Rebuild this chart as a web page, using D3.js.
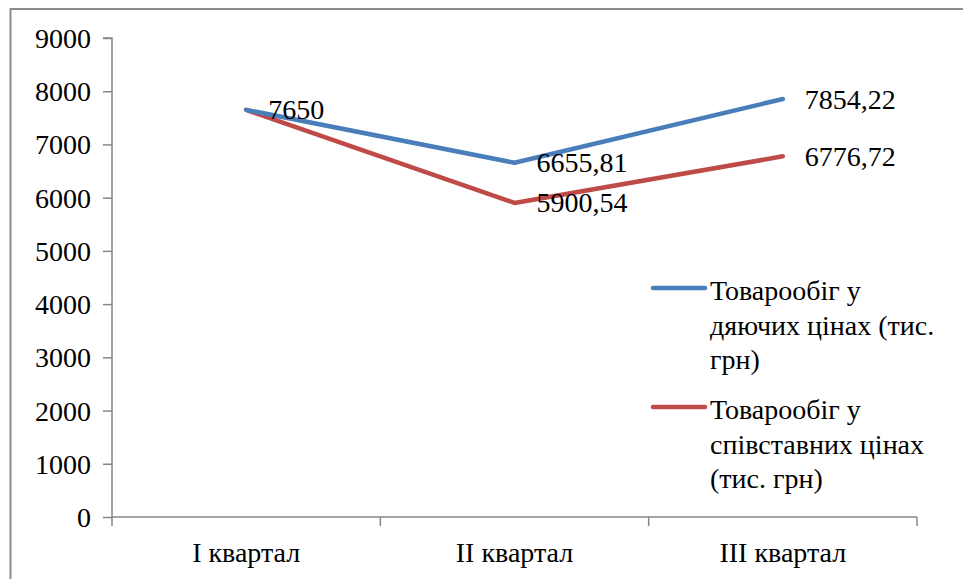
<!DOCTYPE html>
<html>
<head>
<meta charset="utf-8">
<script src="https://cdn.jsdelivr.net/npm/d3@7"></script>
<style>
  html, body { margin: 0; padding: 0; background: #fff; }
  svg { display: block; }
  svg text { font-family: "Liberation Serif", "Times New Roman", Tinos, "DejaVu Serif", "Noto Serif", serif !important; fill: #000; }
</style>
</head>
<body>
<svg id="chart" width="963" height="579"></svg>
<script>
// Quarterly turnover, thousand UAH
const quarters = ["I квартал", "II квартал", "III квартал"];
const currentPrices = [7650, 6655.81, 7854.22];
const comparablePrices = [7650, 5900.54, 6776.72];
const currentLabels = ["7650", "6655,81", "7854,22"];
const comparableLabels = ["", "5900,54", "6776,72"];
const yTicks = [0, 1000, 2000, 3000, 4000, 5000, 6000, 7000, 8000, 9000];
const legendCurrent = ["Товарообіг у", "дяючих цінах (тис.", "грн)"];
const legendComparable = ["Товарообіг у", "співставних цінах", "(тис. грн)"];

const serif = "'Liberation Serif', 'Times New Roman', Tinos, 'DejaVu Serif', 'Noto Serif', serif";
const svg = d3.select("#chart").attr("font-family", serif);
const fontSize = 28;

// outer frame (right and bottom edges fall outside the canvas)
svg.append("rect")
  .attr("x", 10.5).attr("y", 9)
  .attr("width", 980).attr("height", 600)
  .attr("fill", "none").attr("stroke", "#8c8c8c").attr("stroke-width", 2);

const plot = { left: 112, right: 917, top: 38, bottom: 517 };

const x = d3.scaleBand().domain(quarters).range([plot.left, plot.right]).padding(0);
const y = d3.scaleLinear().domain([0, 9000]).range([plot.bottom, plot.top]);
const cx = q => x(q) + x.bandwidth() / 2;

// y axis
const yAxis = svg.append("g")
  .attr("transform", `translate(${plot.left},0)`)
  .call(d3.axisLeft(y).tickValues(yTicks).tickSize(9).tickPadding(12).tickFormat(d3.format("d")));
yAxis.attr("font-family", serif).attr("font-size", fontSize);
yAxis.selectAll("path, line").attr("stroke", "#868686").attr("stroke-width", 1.5);
yAxis.select("path").attr("d", `M-9,${plot.top}H0V${plot.bottom}`);
yAxis.selectAll("text")
  .attr("fill", "#000")
  .attr("dy", "0.34em");

// x axis with tick marks at category boundaries
const xg = svg.append("g").attr("transform", `translate(0,${plot.bottom})`);
xg.append("line")
  .attr("x1", plot.left).attr("x2", plot.right)
  .attr("stroke", "#868686").attr("stroke-width", 1.5);
const boundaries = quarters.map(q => x(q)).concat([plot.right]);
xg.selectAll("line.tick").data(boundaries).join("line")
  .attr("class", "tick")
  .attr("x1", d => d).attr("x2", d => d)
  .attr("y1", 0).attr("y2", 9)
  .attr("stroke", "#868686").attr("stroke-width", 1.5);
xg.selectAll("text").data(quarters).join("text")
  .attr("x", d => cx(d))
  .attr("y", 45)
  .attr("text-anchor", "middle")
  .attr("font-size", fontSize)
  .text(d => d);

// series lines
const line = d3.line().x((d, i) => cx(quarters[i])).y(d => y(d));
const series = [
  { values: comparablePrices, color: "#BE4B48", labels: comparableLabels },
  { values: currentPrices, color: "#4A7EBB", labels: currentLabels }
];

series.forEach(s => {
  svg.append("path")
    .datum(s.values)
    .attr("d", line)
    .attr("fill", "none")
    .attr("stroke", s.color)
    .attr("stroke-width", 4.5)
    .attr("stroke-linecap", "round")
    .attr("stroke-linejoin", "round");
});

// data labels to the right of each point
series.forEach(s => {
  svg.append("g").selectAll("text")
    .data(s.values.map((v, i) => ({ v, i, label: s.labels[i] })).filter(d => d.label))
    .join("text")
    .attr("x", d => cx(quarters[d.i]) + 22)
    .attr("y", d => y(d.v))
    .attr("dy", "0.34em")
    .attr("font-size", fontSize)
    .text(d => d.label);
});

// legend
const legendItems = [
  { color: "#4A7EBB", lines: legendCurrent, y: 288 },
  { color: "#BE4B48", lines: legendComparable, y: 407 }
];
const legend = svg.append("g");
legendItems.forEach(item => {
  legend.append("line")
    .attr("x1", 653).attr("x2", 705)
    .attr("y1", item.y).attr("y2", item.y)
    .attr("stroke", item.color).attr("stroke-width", 4.5)
    .attr("stroke-linecap", "round");
  legend.append("g").selectAll("text").data(item.lines).join("text")
    .attr("x", 710)
    .attr("y", (d, i) => item.y + 12 + i * 34.5)
    .attr("font-size", fontSize)
    .text(d => d);
});
</script>
</body>
</html>
